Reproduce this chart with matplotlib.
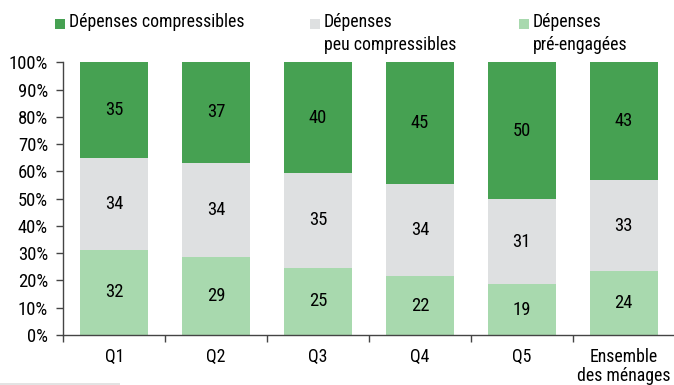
import matplotlib
matplotlib.use("Agg")
import matplotlib.pyplot as plt
from matplotlib.patches import Rectangle
from matplotlib import font_manager

categories = ["Q1", "Q2", "Q3", "Q4", "Q5", "Ensemble\ndes ménages"]
pre_engagees = [31.2, 28.7, 24.7, 21.6, 18.6, 23.5]
peu_compressibles = [33.8, 34.5, 34.8, 33.8, 31.3, 33.3]
compressibles = [35.0, 36.8, 40.5, 44.6, 50.1, 43.2]
lbl_pre = [32, 29, 25, 22, 19, 24]
lbl_peu = [34, 34, 35, 34, 31, 33]
lbl_comp = [35, 37, 40, 45, 50, 43]
yticks = [0, 10, 20, 30, 40, 50, 60, 70, 80, 90, 100]

avail = {f.name for f in font_manager.fontManager.ttflist}
fam = "DejaVu Sans"
for cand in ["Roboto Condensed", "Liberation Sans Narrow", "Open Sans Condensed", "Noto Sans Condensed"]:
    if cand in avail:
        fam = cand
        break
plt.rcParams["font.family"] = [fam, "DejaVu Sans"]
FS = 12.8
FSN = 13.4
WT = "normal"
TC = "#000000"

c_comp = "#46a152"
c_peu = "#dee0e1"
c_pre = "#a8d9ae"

W, H = 674, 385
fig = plt.figure(figsize=(W / 100, H / 100), dpi=100)
ax = fig.add_axes([63.3 / W, (H - 335) / H, (674.6 - 63.3) / W, (335 - 62.3) / H])

x = list(range(len(categories)))
bw = 0.667
bot2 = [a + b for a, b in zip(pre_engagees, peu_compressibles)]
ax.bar(x, pre_engagees, bw, color=c_pre, linewidth=0)
ax.bar(x, peu_compressibles, bw, bottom=pre_engagees, color=c_peu, linewidth=0)
ax.bar(x, compressibles, bw, bottom=bot2, color=c_comp, linewidth=0)

for i in x:
    ax.text(i, pre_engagees[i] / 2, str(lbl_pre[i]), ha="center", va="center", fontsize=FSN, color=TC, fontweight=WT)
    ax.text(i, pre_engagees[i] + peu_compressibles[i] / 2, str(lbl_peu[i]), ha="center", va="center", fontsize=FSN, color=TC, fontweight=WT)
    ax.text(i, bot2[i] + compressibles[i] / 2, str(lbl_comp[i]), ha="center", va="center", fontsize=FSN, color=TC, fontweight=WT)

ax.set_xlim(-0.5, len(categories) - 0.5)
ax.set_ylim(0, 100)
ax.set_yticks(yticks)
ax.set_yticklabels([f"{v}%" for v in yticks], fontsize=FSN, fontweight=WT, color=TC)
ax.set_xticks([i - 0.5 for i in x])
ax.set_xticklabels([])
ax.set_xticks(x, minor=True)
ax.set_xticklabels(categories, minor=True, fontsize=FS, linespacing=1.08, fontweight=WT, color=TC)
ax.tick_params(axis="x", which="minor", length=0, pad=9)
ax.tick_params(axis="x", which="major", length=5, width=1, color="#444444", direction="out")
ax.tick_params(axis="y", length=5, width=1, color="#444444", direction="out", pad=6)
for s in ["top", "right"]:
    ax.spines[s].set_visible(False)
for s in ["left", "bottom"]:
    ax.spines[s].set_color("#444444")
    ax.spines[s].set_linewidth(1)

def fy(y):
    return 1 - y / H

legend = [
    (55, c_comp, ["Dépenses compressibles"]),
    (310, c_peu, ["Dépenses", "peu compressibles"]),
    (519, c_pre, ["Dépenses", "pré-engagées"]),
]
for xs, col, lines in legend:
    fig.add_artist(Rectangle((xs / W, fy(29)), 10 / W, 10 / H, transform=fig.transFigure,
                             facecolor=col, edgecolor="none"))
    for k, t in enumerate(lines):
        fig.text((xs + 14) / W, fy(27 + 23 * k), t, fontsize=FS, va="baseline", ha="left",
                 color=TC, fontweight=WT)

fig.add_artist(Rectangle((0, 0), 120 / W, 2 / H, transform=fig.transFigure, facecolor="#e3e3e3", edgecolor="none"))

fig.savefig("out.png", dpi=100)
